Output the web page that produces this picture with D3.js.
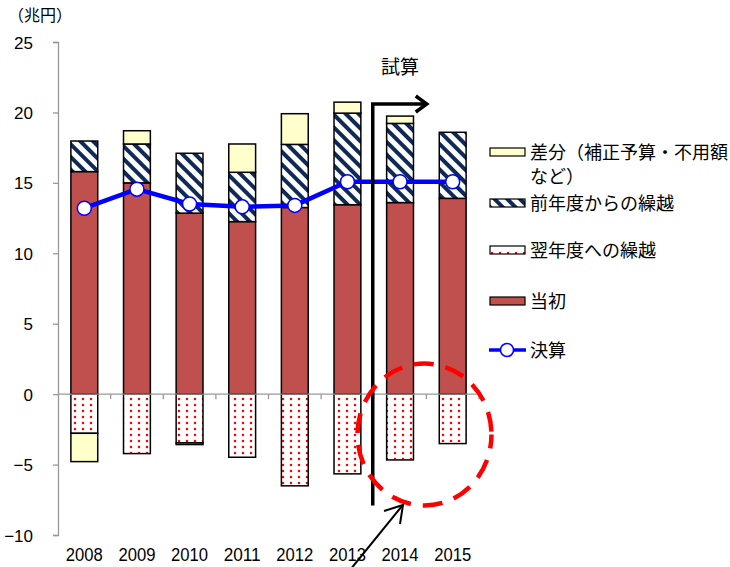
<!DOCTYPE html>
<html>
<head>
<meta charset="utf-8">
<script src="https://cdn.jsdelivr.net/npm/d3@7"></script>
<style>
body { margin: 0; background: #fff; }
svg text { font-family: "Noto Sans CJK JP", sans-serif; fill: #000; }
</style>
</head>
<body>
<svg id="chart" width="730" height="567"></svg>
<script>
var years = ["2008", "2009", "2010", "2011", "2012", "2013", "2014", "2015"];
var initial = [15.8, 15.0, 12.85, 12.25, 13.25, 13.45, 13.6, 13.9];      // 当初
var carryIn = [2.17, 2.76, 4.25, 3.5, 4.48, 6.5, 5.62, 4.69];          // 前年度からの繰越
var diffPos = [0, 0.94, 0, 2.01, 2.18, 0.78, 0.52, 0];                  // 差分 (plus side)
var carryOut = [-2.78, -4.22, -3.46, -4.48, -6.51, -5.66, -4.67, -3.51]; // 翌年度への繰越
var diffNeg = [-2.01, 0, -0.12, 0, 0, 0, 0, 0];                         // 差分 (minus side)
var settled = [13.2, 14.55, 13.5, 13.3, 13.4, 15.08, 15.08, 15.08];     // 決算
var yTicks = [-10, -5, 0, 5, 10, 15, 20, 25];

var svg = d3.select("#chart"),
    margins = {"left": 58, "right": 251, "top": 42, "bottom": 32},
    width = 730, height = 567;

var x = d3.scaleBand().domain(years).range([margins.left, width - margins.right]).paddingInner(0.49).paddingOuter(0.245),
    y = d3.scaleLinear().domain([-10, 25]).range([height - margins.bottom, margins.top]);

// patterns
var defs = svg.append("defs");
var hatch = defs.append("pattern").attr("id", "hatch").attr("patternUnits", "userSpaceOnUse")
    .attr("width", 9).attr("height", 9).attr("patternTransform", "rotate(-45)");
hatch.append("rect").attr("width", 9).attr("height", 9).attr("fill", "#fff");
hatch.append("rect").attr("x", 0).attr("width", 4).attr("height", 9).attr("fill", "#0f2a57");

var dots = defs.append("pattern").attr("id", "dots").attr("patternUnits", "userSpaceOnUse")
    .attr("width", 8).attr("height", 6);
dots.append("rect").attr("width", 8).attr("height", 6).attr("fill", "#fff");
dots.append("circle").attr("cx", 3).attr("cy", 3).attr("r", 1.25).attr("fill", "#ff0000");

var legendDots = defs.append("pattern").attr("id", "ldots").attr("patternUnits", "userSpaceOnUse")
    .attr("width", 8).attr("height", 10);
legendDots.append("rect").attr("width", 8).attr("height", 10).attr("fill", "#fff");
legendDots.append("circle").attr("cx", 4).attr("cy", 3).attr("r", 1.2).attr("fill", "#ff0000");

// axes
var yAxis = svg.append("g").attr("transform", "translate(" + margins.left + ",0)")
    .call(d3.axisLeft(y).tickValues(yTicks).tickSize(5).tickPadding(20)
        .tickFormat(d => d < 0 ? "\u2212" + Math.abs(d) : d));
yAxis.select(".domain").attr("stroke", "#999").attr("stroke-width", 1.3);
yAxis.selectAll(".tick line").attr("stroke", "#999").attr("stroke-width", 1.3);
yAxis.selectAll(".tick text").style("font-size", "17px").style("font-family", "'Liberation Sans Narrow', 'Liberation Sans', sans-serif")
    .attr("fill", "#000").attr("dy", "0.36em");

svg.append("text").attr("x", 8).attr("y", 21).style("font-size", "16px").text("（兆円）");

var step = x.step();
var boundaries = d3.range(years.length + 1).map(i => margins.left + i * step);

function stack(vals, base, fill, cls) {
    svg.selectAll("." + cls).data(years).enter().append("rect").classed(cls, true)
        .attr("x", d => x(d))
        .attr("width", x.bandwidth())
        .attr("y", (d, i) => y(Math.max(base[i], base[i] + vals[i])))
        .attr("height", (d, i) => Math.abs(y(base[i]) - y(base[i] + vals[i])))
        .attr("fill", fill)
        .attr("stroke", "#000").attr("stroke-width", 1.5)
        .style("display", (d, i) => vals[i] === 0 ? "none" : null);
}

var zeros = years.map(() => 0);
stack(initial, zeros, "#c0504d", "initial");
stack(carryIn, initial, "url(#hatch)", "carryin");
stack(diffPos, initial.map((v, i) => v + carryIn[i]), "#ffffcc", "diffpos");
stack(carryOut, zeros, "url(#dots)", "carryout");
stack(diffNeg, carryOut, "#ffffcc", "diffneg");

// zero line + category ticks
svg.append("line").attr("x1", margins.left).attr("x2", boundaries[boundaries.length - 1])
    .attr("y1", y(0)).attr("y2", y(0)).attr("stroke", "#999").attr("stroke-width", 1.3);
svg.selectAll(".xtick").data(boundaries.slice(1)).enter().append("line")
    .attr("x1", d => d).attr("x2", d => d).attr("y1", y(0)).attr("y2", y(0) + 5)
    .attr("stroke", "#999").attr("stroke-width", 1.3);

svg.selectAll(".xlabel").data(years).enter().append("text")
    .attr("x", d => x(d) + x.bandwidth() / 2).attr("y", 561)
    .attr("text-anchor", "middle").style("font-size", "18px")
    .style("font-family", "'Liberation Sans Narrow', 'Liberation Sans', sans-serif")
    .attr("textLength", 37).attr("lengthAdjust", "spacingAndGlyphs")
    .text(d => d);

// settled line
var line = d3.line().x((d, i) => x(years[i]) + x.bandwidth() / 2).y(d => y(d));
svg.append("path").datum(settled).attr("d", line).attr("fill", "none")
    .attr("stroke", "#0000ff").attr("stroke-width", 4.5);
svg.selectAll(".pt").data(settled).enter().append("circle")
    .attr("cx", (d, i) => x(years[i]) + x.bandwidth() / 2).attr("cy", d => y(d))
    .attr("r", 7).attr("fill", "#fff").attr("stroke", "#0000ff").attr("stroke-width", 1.5);

// annotations: 試算 bracket
var divX = (x("2013") + x.bandwidth() + x("2014")) / 2 - 1,
    armY = y(20.6);
svg.append("path").attr("d", "M" + divX + "," + y(-7.9) + "V" + armY + "H" + (divX + 52))
    .attr("fill", "none").attr("stroke", "#000").attr("stroke-width", 3.5);
svg.append("path").attr("d", "M" + (divX + 43) + "," + (armY - 8) + "L" + (divX + 54) + "," + armY + "L" + (divX + 43) + "," + (armY + 8))
    .attr("fill", "none").attr("stroke", "#000").attr("stroke-width", 3.5);
svg.append("text").attr("x", 400).attr("y", 74).attr("text-anchor", "middle")
    .style("font-size", "19px").attr("fill", "#333").text("試算");

// red dashed circle
svg.append("ellipse").attr("cx", 424.5).attr("cy", 434.5).attr("rx", 67).attr("ry", 71)
    .attr("fill", "none").attr("stroke", "#ff0000").attr("stroke-width", 4.5)
    .attr("stroke-dasharray", "20,12").attr("stroke-dashoffset", 6);

// black arrow pointing at circle
svg.append("line").attr("x1", 350).attr("y1", 570).attr("x2", 402).attr("y2", 506)
    .attr("stroke", "#000").attr("stroke-width", 2);
svg.append("path").attr("d", "M384,511 L403,505 L400,524")
    .attr("fill", "none").attr("stroke", "#000").attr("stroke-width", 2);

// legend
var legend = [
    {label: ["差分（補正予算・不用額", "など）"], fill: "#ffffcc", y: 152},
    {label: ["前年度からの繰越"], fill: "url(#hatch)", y: 203},
    {label: ["翌年度への繰越"], fill: "url(#ldots)", y: 250},
    {label: ["当初"], fill: "#c0504d", y: 301}
];
var lg = svg.append("g");
legend.forEach(l => {
    lg.append("rect").attr("x", 490).attr("y", l.y - 4).attr("width", 35).attr("height", 8)
        .attr("fill", l.fill).attr("stroke", "#000").attr("stroke-width", 1.2);
    l.label.forEach((t, j) => {
        lg.append("text").attr("x", 530).attr("y", l.y + 7 + j * 24).style("font-size", "18px").text(t);
    });
});
lg.append("line").attr("x1", 489).attr("x2", 526).attr("y1", 350).attr("y2", 350)
    .attr("stroke", "#0000ff").attr("stroke-width", 3.5);
lg.append("circle").attr("cx", 507).attr("cy", 350).attr("r", 6.5).attr("fill", "#fff")
    .attr("stroke", "#0000ff").attr("stroke-width", 1.5);
lg.append("text").attr("x", 530).attr("y", 357).style("font-size", "18px").text("決算");
</script>
</body>
</html>
